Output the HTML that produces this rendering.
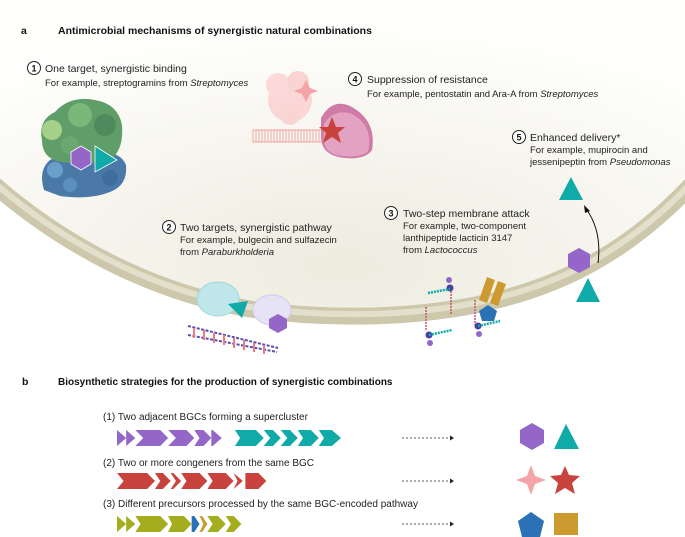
<!DOCTYPE html>
<html><head><meta charset="utf-8"><style>
html,body{margin:0;padding:0;background:#fff;}
svg{display:block;font-family:"Liberation Sans",Arial,sans-serif;}
.t{font-size:10.5px;fill:#222;}
.s{font-size:9.5px;fill:#222;}
.h{font-size:10.5px;font-weight:bold;fill:#111;}
.n{font-size:9px;font-weight:bold;fill:#111;text-anchor:middle;}
</style></head><body>
<svg width="685" height="537" viewBox="0 0 685 537">
<defs>
<radialGradient id="cg" cx="0.5" cy="0.85" r="0.75">
<stop offset="0" stop-color="#eeecdf"/><stop offset="0.6" stop-color="#f7f6f0"/><stop offset="1" stop-color="#fefefd"/>
</radialGradient>
</defs>
<path d="M-10,0 L695,0 L695,178 C630,248 560,286 470,303 C400,316 320,316 250,306 C150,289 60,240 -10,178 Z" fill="url(#cg)"/>
<path d="M-10,178 C60,240 150,289 250,306 C320,316 400,316 470,303 C560,286 630,248 695,178" fill="none" stroke="#cdc8ab" stroke-width="17" transform="translate(0,3)"/>
<path d="M-10,178 C60,240 150,289 250,306 C320,316 400,316 470,303 C560,286 630,248 695,178" fill="none" stroke="#e2dfcb" stroke-width="6" transform="translate(0,1)"/>

<text x="21" y="34" class="h">a</text>
<text x="58" y="34" class="h">Antimicrobial mechanisms of synergistic natural combinations</text>

<circle cx="34" cy="68" r="6.5" fill="#fff" stroke="#222"/><text x="34" y="71.5" class="n">1</text>
<text x="45" y="72" class="t">One target, synergistic binding</text>
<text x="45" y="86" class="s">For example, streptogramins from <tspan font-style="italic">Streptomyces</tspan></text>
<g>
<path d="M44 190 Q38 170 50 160 Q70 150 95 153 Q120 150 126 165 Q128 185 110 192 Q90 200 60 196 Z" fill="#4a79a8"/>
<circle cx="55" cy="170" r="8" fill="#6a9fc8"/><circle cx="70" cy="185" r="7" fill="#5b8fbd"/><circle cx="110" cy="178" r="8" fill="#3f6e9e"/>
<path d="M42 140 Q38 120 55 112 Q70 95 95 100 Q118 104 122 125 Q124 150 110 160 Q90 165 60 162 Q42 158 42 140 Z" fill="#5f9e68"/>
<circle cx="52" cy="130" r="10" fill="#a6d08a"/><circle cx="80" cy="115" r="12" fill="#78b878"/><circle cx="105" cy="125" r="11" fill="#4e8b5c"/><circle cx="70" cy="145" r="9" fill="#6aa870"/>
<polygon points="81,146 91,152 91,164 81,170 71,164 71,152" fill="#9366c8" stroke="#fff" stroke-width="0.8"/>
<polygon points="95,146 117,160 95,172" fill="#10aaa8" stroke="#fff" stroke-width="0.8"/>
</g>

<g>
<circle cx="290" cy="100" r="22" fill="#fbd6d6"/><circle cx="278" cy="85" r="12" fill="#fbd9d9"/><circle cx="298" cy="82" r="11" fill="#fad3d3"/><circle cx="290" cy="115" r="10" fill="#fad3d3"/>
<path d="M306 80 L310 88 L318 91 L310 94 L306 102 L302 94 L294 91 L302 88 Z" fill="#f4a3a6"/>
<path d="M321 118 Q332 98 350 106 Q377 120 372 150 Q365 160 345 158 Q322 156 321 138 Z" fill="#d07aa6"/>
<path d="M324 124 Q334 108 352 114 Q374 126 368 152 Q358 158 342 156 Q324 154 324 140 Z" fill="#e3a2c2"/>
<rect x="253" y="130" width="70" height="12" fill="none" stroke="#ef8c8c" stroke-width="0.8"/>
<path d="M256 130 V142 M259 130 V142 M262 130 V142 M265 130 V142 M268 130 V142 M271 130 V142 M274 130 V142 M277 130 V142 M280 130 V142 M283 130 V142 M286 130 V142 M289 130 V142 M292 130 V142 M295 130 V142 M298 130 V142 M301 130 V142 M304 130 V142 M307 130 V142 M310 130 V142 M313 130 V142 M316 130 V142 M319 130 V142" stroke="#ef8c8c" stroke-width="0.7"/>
<path d="M332 117 L336 127 L345 127 L338 133 L341 143 L332 137 L323 143 L326 133 L319 127 L328 127 Z" fill="#c8433e"/>
</g>
<circle cx="355" cy="79" r="6.5" fill="#fff" stroke="#222"/><text x="355" y="82.5" class="n">4</text>
<text x="367" y="83" class="t">Suppression of resistance</text>
<text x="367" y="97" class="s">For example, pentostatin and Ara-A from <tspan font-style="italic">Streptomyces</tspan></text>

<circle cx="519" cy="137" r="6.5" fill="#fff" stroke="#222"/><text x="519" y="140.5" class="n">5</text>
<text x="530" y="141" class="t">Enhanced delivery*</text>
<text x="530" y="153" class="s">For example, mupirocin and</text>
<text x="530" y="165" class="s">jessenipeptin from <tspan font-style="italic">Pseudomonas</tspan></text>
<polygon points="571,177 583,200 559,200" fill="#10aaa8"/>
<path d="M598 263 Q602 232 587 210" fill="none" stroke="#111" stroke-width="1"/>
<polygon points="584,205 590,211 585,213" fill="#111"/>
<polygon points="579,248 590,254 590,267 579,273 568,267 568,254" fill="#9366c8"/>
<polygon points="588,278 600,302 576,302" fill="#10aaa8"/>

<circle cx="391" cy="213" r="6.5" fill="#fff" stroke="#222"/><text x="391" y="216.5" class="n">3</text>
<text x="403" y="217" class="t">Two-step membrane attack</text>
<text x="403" y="229" class="s">For example, two-component</text>
<text x="403" y="241" class="s">lanthipeptide lacticin 3147</text>
<text x="403" y="253" class="s">from <tspan font-style="italic">Lactococcus</tspan></text>
<g>
<polygon points="487,277 495,280 487,303 479,300" fill="#cc9a2e"/>
<polygon points="498,281 506,284 498,306 490,303" fill="#cc9a2e"/>
<polygon points="488,305 497,311 494,321 482,321 479,311" fill="#2a72b5"/>
<path d="M451 291 V314 M475 300 V325 M426 307 V331" stroke="#c05a6a" stroke-width="1.5" stroke-dasharray="2 1"/>
<circle cx="449" cy="280" r="3" fill="#9366c8"/><circle cx="450" cy="288" r="3.5" fill="#4c3ea0"/>
<path d="M428 293 L450 289" stroke="#10aaa8" stroke-width="2.5" stroke-dasharray="2 1"/>
<circle cx="429" cy="335" r="3.5" fill="#4c3ea0"/><circle cx="430" cy="343" r="3" fill="#9366c8"/>
<path d="M429 335 L452 330" stroke="#10aaa8" stroke-width="2.5" stroke-dasharray="2 1"/>
<circle cx="478" cy="326" r="3.5" fill="#4c3ea0"/><circle cx="479" cy="334" r="3" fill="#9366c8"/>
<path d="M478 326 L500 321" stroke="#10aaa8" stroke-width="2.5" stroke-dasharray="2 1"/>
</g>

<circle cx="169" cy="227" r="6.5" fill="#fff" stroke="#222"/><text x="169" y="230.5" class="n">2</text>
<text x="180" y="231" class="t">Two targets, synergistic pathway</text>
<text x="180" y="243" class="s">For example, bulgecin and sulfazecin</text>
<text x="180" y="255" class="s">from <tspan font-style="italic">Paraburkholderia</tspan></text>
<g>
<ellipse cx="218" cy="299" rx="21" ry="17" fill="#bfe6ea" stroke="#9dd7dd"/>
<polygon points="228,304 248,301 242,318" fill="#10aaa8"/>
<ellipse cx="272" cy="310" rx="19" ry="15" fill="#e6e3f6" stroke="#cfcbea"/>
<polygon points="278,314 287,319 287,328 278,333 269,328 269,319" fill="#9366c8"/>
<path d="M188 326 L278 348 M188 335 L277 352" stroke="#5a4db0" stroke-width="2" stroke-dasharray="3 1.5"/>
<path d="M194 328 V338 M204 330 V340 M214 333 V343 M224 335 V345 M234 338 V348 M244 340 V350 M254 343 V352 M264 345 V354" stroke="#ee7a7a" stroke-width="2"/>
</g>

<text x="22" y="385" class="h">b</text>
<text x="58" y="385" class="h" style="font-size:10px">Biosynthetic strategies for the production of synergistic combinations</text>
<text x="103" y="420" class="s" style="font-size:10px">(1) Two adjacent BGCs forming a supercluster</text>
<text x="103" y="466" class="s" style="font-size:10px">(2) Two or more congeners from the same BGC</text>
<text x="103" y="507" class="s" style="font-size:10px">(3) Different precursors processed by the same BGC-encoded pathway</text>
<g transform="translate(117 0) scale(1.31 1) translate(-89 0)">
<g fill="#9366c8">
<polygon points="89,430 96,438 89,446"/><polygon points="96,430 103,438 96,446"/>
<polygon points="103,430 122,430 128,438 122,446 103,446 109,438"/>
<polygon points="128,430 142,430 148,438 142,446 128,446 134,438"/>
<polygon points="148,430 155,430 161,438 155,446 148,446 152,438"/>
<polygon points="161,430 162,430 169,438 162,446 161,446"/>
</g>
<g fill="#10aaa8">
<polygon points="179,430 195,430 201,438 195,446 179,446 183,438"/>
<polygon points="201,430 208,430 214,438 208,446 201,446 206,438"/>
<polygon points="214,430 221,430 227,438 221,446 214,446 219,438"/>
<polygon points="227,430 237,430 243,438 237,446 227,446 231,438"/>
<polygon points="243,430 253,430 260,438 253,446 243,446 247,438"/>
</g>
<g fill="#c8433e">
<polygon points="89,473 112,473 118,481 112,489 89,489 94,481"/>
<polygon points="118,473 124,473 130,481 124,489 118,489 122,481"/>
<polygon points="130,473 132,473 138,481 132,489 130,489 134,481"/>
<polygon points="138,473 152,473 158,481 152,489 138,489 142,481"/>
<polygon points="158,473 172,473 178,481 172,489 158,489 162,481"/>
<polygon points="178,473 185,481 178,489 181,481"/>
<polygon points="187,473 197,473 203,481 197,489 187,489"/>
</g>
<g fill="#a3ad1e">
<polygon points="89,516 96,524 89,532"/><polygon points="96,516 103,524 96,532"/>
<polygon points="103,516 122,516 128,524 122,532 103,532 107,524"/>
<polygon points="128,516 140,516 146,524 140,532 128,532 131,524"/>
<polygon points="158,516 166,516 172,524 166,532 158,532 162,524"/>
<polygon points="172,516 178,516 184,524 178,532 172,532 176,524"/>
</g>
<polygon points="146,516 148,516 152,524 148,532 146,532" fill="#2a72b5"/>
<polygon points="152,516 154,516 158,524 154,532 152,532 155,524" fill="#cc9a2e"/>
</g>
<g stroke="#222" stroke-width="0.8" stroke-dasharray="2 2">
<line x1="402" y1="438" x2="450" y2="438"/><line x1="402" y1="481" x2="450" y2="481"/><line x1="402" y1="524" x2="450" y2="524"/>
</g>
<g fill="#222">
<polygon points="450,435.5 454,438 450,440.5"/><polygon points="450,478.5 454,481 450,483.5"/><polygon points="450,521.5 454,524 450,526.5"/>
</g>
<polygon points="532,423 544,430 544,443 532,450 520,443 520,430" fill="#9366c8"/>
<polygon points="566,424 579,449 554,449" fill="#10aaa8"/>
<path d="M531 465 L535 476 L546 480 L535 484 L531 495 L527 484 L516 480 L527 476 Z" fill="#f4a3a6"/>
<path d="M565 466 L569 475 L580 476 L572 483 L575 494 L565 488 L555 494 L558 483 L550 476 L561 475 Z" fill="#c8433e"/>
<polygon points="531,512 544,521 540,537 522,537 518,521" fill="#2a72b5"/>
<rect x="554" y="513" width="24" height="22" fill="#cc9a2e"/>
</svg>
</body></html>
